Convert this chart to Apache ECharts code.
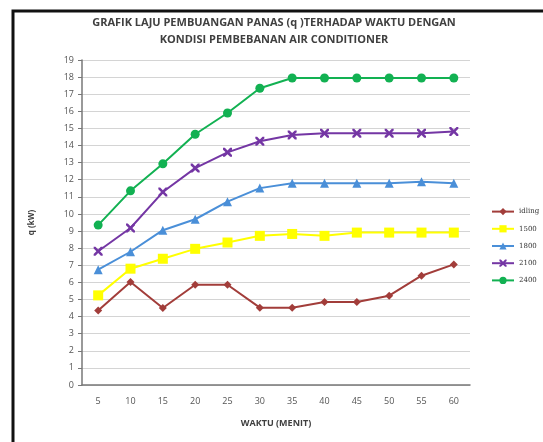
<!DOCTYPE html>
<html>
<head>
<meta charset="utf-8">
<script src="https://cdn.jsdelivr.net/npm/echarts@6/dist/echarts.min.js"></script>
<style>
  html, body { margin: 0; padding: 0; background: #fff; }
  #chart { width: 543px; height: 442px; }
</style>
</head>
<body>
<div id="chart"></div>
<script>
// data
var waktu = ['5', '10', '15', '20', '25', '30', '35', '40', '45', '50', '55', '60']
var idling = [4.35, 6.02, 4.5, 5.86, 5.86, 4.52, 4.52, 4.85, 4.85, 5.22, 6.39, 7.05]
var q1500 = [5.24, 6.8, 7.38, 7.96, 8.33, 8.72, 8.83, 8.72, 8.91, 8.91, 8.91, 8.91]
var q1800 = [6.74, 7.79, 9.05, 9.69, 10.72, 11.51, 11.8, 11.8, 11.8, 11.8, 11.88, 11.8]
var q2100 = [7.82, 9.18, 11.28, 12.68, 13.6, 14.25, 14.62, 14.72, 14.72, 14.72, 14.72, 14.82]
var q2400 = [9.35, 11.35, 12.93, 14.66, 15.9, 17.35, 17.95, 17.95, 17.95, 17.95, 17.95, 17.95]

var xMark = 'path://M0,0 L4,0 L10,6 L16,0 L20,0 L20,4 L14,10 L20,16 L20,20 L16,20 L10,14 L4,20 L0,20 L0,16 L6,10 L0,4 Z'

function makeSeries (name, data, color, symbol, size) {
  return {
    name: name,
    type: 'line',
    data: data,
    symbol: symbol,
    symbolSize: size,
    lineStyle: { color: color, width: 2 },
    itemStyle: { color: color },
    emphasis: { disabled: true }
  }
}

var chart = echarts.init(document.getElementById('chart'))
var option = {
  animation: false,
  title: {
    text: 'GRAFIK LAJU PEMBUANGAN PANAS (q )TERHADAP WAKTU DENGAN\nKONDISI PEMBEBANAN AIR CONDITIONER',
    left: 269,
    top: 9,
    textAlign: 'center',
    textStyle: {
      fontFamily: 'Open Sans',
      fontSize: 11,
      fontWeight: 'bold',
      color: '#404040',
      lineHeight: 17
    }
  },
  graphic: [{
    type: 'polyline',
    shape: { points: [[13, 442], [13, 11], [543, 11]] },
    style: { stroke: '#111', lineWidth: 3, fill: null }
  }],
  legend: {
    orient: 'vertical',
    left: 486,
    top: 203,
    itemGap: 10,
    itemWidth: 22,
    itemHeight: 9,
    textStyle: { fontFamily: 'DejaVu Serif', fontSize: 7, color: '#333' },
    data: ['idling', '1500', '1800', '2100', '2400']
  },
  grid: {
    left: 82,
    right: 73,
    top: 60,
    bottom: 57
  },
  xAxis: {
    type: 'category',
    data: waktu,
    name: 'WAKTU (MENIT)',
    nameLocation: 'middle',
    nameGap: 34,
    nameTextStyle: { fontFamily: 'Open Sans', fontSize: 9, fontWeight: 'bold', color: '#404040' },
    axisLine: { lineStyle: { color: '#777', width: 1.5 } },
    axisTick: { show: false },
    axisLabel: { fontFamily: 'Open Sans', fontSize: 9, color: '#555', margin: 12 }
  },
  yAxis: {
    type: 'value',
    min: 0,
    max: 19,
    interval: 1,
    name: 'q (kW)',
    nameLocation: 'middle',
    nameGap: 46,
    nameRotate: 90,
    nameTextStyle: { fontFamily: 'Open Sans', fontSize: 8, fontWeight: 'bold', color: '#404040' },
    axisLine: { show: true, lineStyle: { color: '#777', width: 1.5 } },
    axisTick: { show: true, length: 4, lineStyle: { color: '#777' } },
    axisLabel: { fontFamily: 'Open Sans', fontSize: 9, color: '#555', margin: 8 },
    splitLine: { lineStyle: { color: '#d4d4d4', width: 1 } }
  },
  series: [
    makeSeries('idling', idling, '#a23d3a', 'diamond', 8),
    makeSeries('1500', q1500, '#ffff00', 'rect', 10),
    makeSeries('1800', q1800, '#4a8fd8', 'triangle', 9),
    makeSeries('2100', q2100, '#7436a4', xMark, 9),
    makeSeries('2400', q2400, '#12b152', 'circle', 9)
  ]
}
chart.setOption(option)
</script>
</body>
</html>
